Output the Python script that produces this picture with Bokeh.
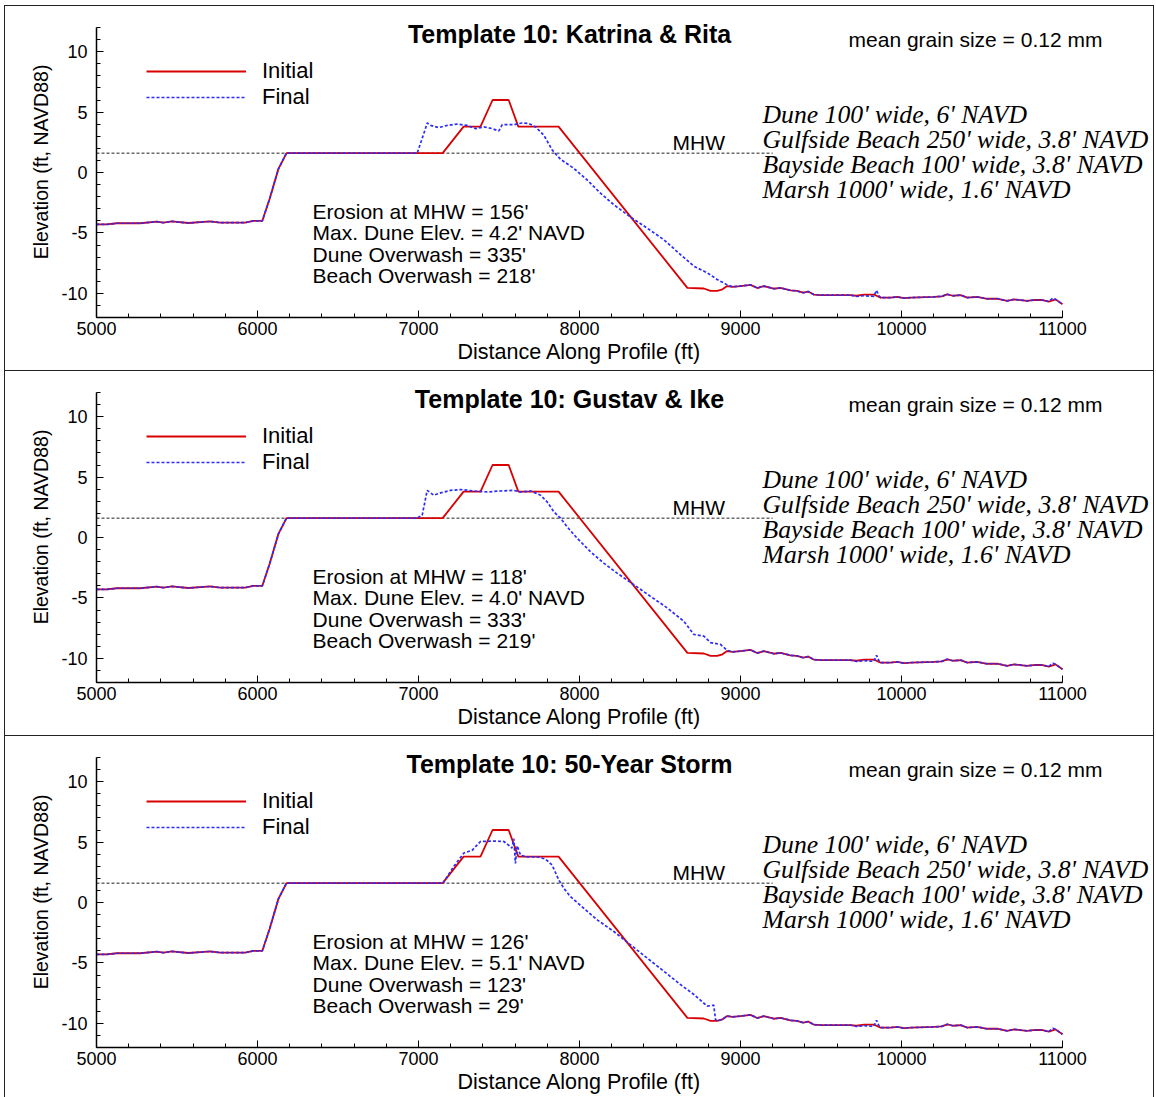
from bokeh.plotting import figure
from bokeh.models import Range1d, FixedTicker, Label, Legend, LegendItem, Title, Div
from bokeh.layouts import column
from bokeh.embed import file_html
from bokeh.resources import INLINE

# ---------------- data ----------------
initial_x = [5000, 5064, 5126, 5271, 5374, 5416, 5468, 5571, 5706, 5768, 5923, 5975, 6030,
             6075, 6130, 6180, 7150, 7280, 7385, 7460, 7560, 7620, 7870, 8670, 8772, 8814,
             8855, 8888, 8917, 8950, 9000, 9062, 9104, 9145, 9207, 9248, 9311, 9350, 9390,
             9420, 9455, 9500, 9683, 9720, 9768, 9828, 9870, 9932, 9975, 10014, 10060,
             10201, 10250, 10284, 10320, 10368, 10408, 10470, 10532, 10600, 10656, 10700,
             10780, 10830, 10870, 10915, 10957, 11000]
initial_y = [-4.3, -4.3, -4.2, -4.2, -4.07, -4.15, -4.05, -4.18, -4.05, -4.15, -4.15, -4.0, -4.0,
             -2.2, 0.3, 1.6, 1.6, 3.8, 3.8, 6.0, 6.0, 3.8, 3.8, -9.55, -9.6, -9.8,
             -9.8, -9.67, -9.4, -9.46, -9.4, -9.3, -9.56, -9.4, -9.62, -9.55, -9.75, -9.8, -9.95,
             -9.85, -10.1, -10.15, -10.15, -10.2, -10.1, -10.1, -10.35, -10.35, -10.3, -10.4, -10.35,
             -10.3, -10.25, -10.08, -10.2, -10.15, -10.35, -10.3, -10.45, -10.45, -10.62, -10.5,
             -10.62, -10.55, -10.55, -10.68, -10.5, -10.9]

# gulf side of the final profiles (unchanged)
final_head_x = [5000, 5064, 5126, 5271, 5374, 5416, 5468, 5571, 5706, 5768, 5923, 5975, 6030,
                6075, 6130, 6180]
final_head_y = [-4.3, -4.3, -4.2, -4.2, -4.07, -4.15, -4.05, -4.18, -4.05, -4.15, -4.15, -4.0, -4.0,
                -2.2, 0.3, 1.6]

# bay side tail of the final profiles
final_tail_x = [8855, 8888, 8917, 8950, 9000, 9062, 9104, 9145, 9207, 9248, 9311, 9350, 9390,
                9420, 9455, 9500, 9683, 9720, 9768, 9828, 9845, 9860, 9870, 9932, 9975, 10014, 10060,
                10201, 10250, 10284, 10320, 10368, 10408, 10470, 10532, 10600, 10656, 10700,
                10780, 10830, 10870, 10915, 10940, 10957, 11000]
final_tail_y = [-9.8, -9.67, -9.4, -9.46, -9.4, -9.3, -9.56, -9.4, -9.62, -9.55, -9.75, -9.8, -9.95,
                -9.85, -10.1, -10.15, -10.15, -10.25, -10.2, -10.25, -9.75, -10.2, -10.35, -10.35, -10.3, -10.4, -10.35,
                -10.3, -10.25, -10.08, -10.2, -10.15, -10.35, -10.3, -10.45, -10.45, -10.62, -10.5,
                -10.62, -10.55, -10.55, -10.68, -10.4, -10.5, -10.9]

katrina_mid_x = [6992, 7040, 7054, 7075, 7126, 7178, 7240, 7302, 7354, 7406, 7458, 7499, 7520,
                 7593, 7644, 7686, 7727, 7779, 7831, 7882, 7965, 8048, 8130, 8213, 8317, 8420,
                 8524, 8627, 8710, 8793, 8855, 8917]
katrina_mid_y = [1.6, 3.5, 4.1, 3.9, 3.72, 3.9, 4.0, 3.9, 3.63, 3.77, 3.63, 3.44, 3.96,
                 3.96, 4.1, 4.05, 3.77, 3.08, 1.85, 1.1, 0.34, -0.62, -1.71, -2.67, -3.69, -4.6,
                 -5.56, -6.79, -7.75, -8.3, -8.85, -9.3]

gustav_mid_x = [6992, 7023, 7054, 7095, 7137, 7199, 7261, 7344, 7427, 7509, 7592, 7634, 7696,
                7758, 7799, 7841, 7882, 7923, 7986, 8068, 8151, 8234, 8337, 8441, 8545, 8648,
                8710, 8772, 8814, 8876, 8917]
gustav_mid_y = [1.6, 1.85, 3.9, 3.5, 3.69, 3.9, 3.97, 3.85, 3.77, 3.85, 3.9, 3.77, 3.85,
                3.5, 2.95, 2.12, 1.6, 0.89, -0.07, -1.17, -2.12, -2.95, -3.9, -4.87, -5.83, -6.93,
                -8.02, -8.16, -8.7, -8.85, -9.34]

storm50_mid_x = [7150, 7157, 7220, 7282, 7333, 7385, 7468, 7530, 7561, 7580, 7592, 7602, 7613,
                 7634, 7675, 7737, 7789, 7830, 7872, 7903, 7944, 8027, 8110, 8213, 8317, 8420,
                 8524, 8627, 8710, 8793, 8834, 8845]
storm50_mid_y = [1.6, 1.7, 3.0, 4.1, 4.32, 5.05, 5.08, 5.05, 4.73, 4.5, 5.28, 3.23, 4.7,
                 3.9, 3.77, 3.77, 3.6, 3.09, 1.85, 1.17, 0.48, -0.48, -1.44, -2.4, -3.5, -4.6,
                 -5.69, -6.79, -7.61, -8.58, -8.5, -9.7]

mhw_x = [5000, 9200]
mhw_y = [1.6, 1.6]

titles = ["Template 10: Katrina & Rita", "Template 10: Gustav & Ike", "Template 10: 50-Year Storm"]
stats = [
    ["Erosion at MHW = 156'", "Max. Dune Elev. = 4.2' NAVD", "Dune Overwash = 335'", "Beach Overwash = 218'"],
    ["Erosion at MHW = 118'", "Max. Dune Elev. = 4.0' NAVD", "Dune Overwash = 333'", "Beach Overwash = 219'"],
    ["Erosion at MHW = 126'", "Max. Dune Elev. = 5.1' NAVD", "Dune Overwash = 123'", "Beach Overwash = 29'"],
]
template_lines = ["Dune 100' wide, 6' NAVD", "Gulfside Beach 250' wide, 3.8' NAVD",
                  "Bayside Beach 100' wide, 3.8' NAVD", "Marsh 1000' wide, 1.6' NAVD"]
grain_text = "mean grain size = 0.12 mm"
x_label = "Distance Along Profile (ft)"
y_label = "Elevation (ft, NAVD88)"
x_ticks = [5000, 6000, 7000, 8000, 9000, 10000, 11000]
x_minor = list(range(5000, 11001, 200))
y_ticks = [-10, -5, 0, 5, 10]
y_tick_text = ["-10", "-5", "0", "5", "10"]
y_minor = list(range(-12, 13, 1))


def tail_from(x0):
    xs = [x for x in final_tail_x if x >= x0]
    ys = [y for x, y in zip(final_tail_x, final_tail_y) if x >= x0]
    return xs, ys


t1x, t1y = tail_from(8950)
t3x, t3y = tail_from(8855)
finals = [
    (final_head_x + katrina_mid_x + t1x, final_head_y + katrina_mid_y + t1y),
    (final_head_x + gustav_mid_x + t1x, final_head_y + gustav_mid_y + t1y),
    (final_head_x + storm50_mid_x + t3x, final_head_y + storm50_mid_y + t3y),
]

SANS = "Liberation Sans"
SERIF = "Liberation Serif"
RED = "#d80000"
BLUE = "#2b2bff"

FIG_W, FIG_H = 1148, 364
LEFT, BOTTOM = 91, 53
FRAME_W = FIG_W - LEFT
FRAME_H = FIG_H - BOTTOM
PX_PER_FT = 966 / 6000.0
PX_PER_UNIT = 290 / 24.0
X_END = 5000 + FRAME_W / PX_PER_FT
Y_END = -12 + FRAME_H / PX_PER_UNIT


def make_panel(title, fx, fy, stat_lines):
    p = figure(width=FIG_W, height=FIG_H, x_range=Range1d(5000, X_END), y_range=Range1d(-12, Y_END),
               output_backend="svg", toolbar_location=None,
               min_border_left=LEFT, min_border_right=0, min_border_top=0, min_border_bottom=BOTTOM)
    p.outline_line_color = None
    p.grid.visible = False
    p.background_fill_color = "white"
    p.border_fill_color = "white"

    p.xaxis.ticker = FixedTicker(ticks=x_ticks, minor_ticks=x_minor)
    p.yaxis.ticker = FixedTicker(ticks=y_ticks, minor_ticks=y_minor)
    p.xaxis.bounds = (5000, 11000)
    p.yaxis.bounds = (-12, 12)
    p.yaxis.major_label_overrides = dict(zip(y_ticks, y_tick_text))
    for ax in (p.xaxis, p.yaxis):
        ax.major_tick_in = 7
        ax.major_tick_out = 0
        ax.minor_tick_in = 4
        ax.minor_tick_out = 0
        ax.axis_line_color = "black"
        ax.axis_line_width = 1.5
        ax.major_tick_line_color = "black"
        ax.minor_tick_line_color = "black"
        ax.major_label_text_font = SANS
        ax.major_label_text_font_size = "18px"
        ax.major_label_text_color = "black"
        ax.axis_label_text_font = SANS
        ax.axis_label_text_font_style = "normal"
        ax.axis_label_text_color = "black"
    p.yaxis.axis_label = y_label
    p.yaxis.axis_label_text_font_size = "19.5px"
    p.xaxis.major_label_standoff = 4
    p.yaxis.major_label_standoff = 9
    p.yaxis.axis_label_standoff = 6
    # x-axis label centred under the 5000-11000 span of the axis
    p.add_layout(Title(text=x_label, align="left", offset=361, standoff=1,
                       text_font=SANS, text_font_size="21.5px", text_font_style="normal",
                       text_color="black"), "below")

    p.line(mhw_x, mhw_y, line_color="#222222", line_width=1, line_dash="3 2")
    r1 = p.line(initial_x, initial_y, line_color=RED, line_width=1.8)
    r2 = p.line(fx, fy, line_color=BLUE, line_width=1.7, line_dash="3 2")

    legend = Legend(items=[LegendItem(label="Initial", renderers=[r1]),
                           LegendItem(label="Final", renderers=[r2])],
                    location=(50, 207), glyph_width=100, glyph_height=26, label_height=26,
                    label_standoff=16, spacing=0, padding=0, margin=0,
                    border_line_color=None, background_fill_alpha=0,
                    label_text_font=SANS, label_text_font_size="22px", label_text_color="black")
    p.add_layout(legend)

    p.add_layout(Label(x=7938, y=11.5, text=title, text_font=SANS, text_font_size="25px",
                       text_font_style="bold", text_color="black",
                       text_align="center", text_baseline="middle"))
    p.add_layout(Label(x=9671, y=11.0, text=grain_text, text_font=SANS, text_font_size="21px",
                       text_color="black", text_align="left", text_baseline="middle"))
    p.add_layout(Label(x=8578, y=2.48, text="MHW", text_font=SANS, text_font_size="21px",
                       text_color="black", text_align="left", text_baseline="middle"))
    for txt, yy in zip(stat_lines, [-3.22, -4.96, -6.78, -8.52]):
        p.add_layout(Label(x=6342, y=yy, text=txt, text_font=SANS, text_font_size="21px",
                           text_color="black", text_align="left", text_baseline="middle"))
    for txt, yy in zip(template_lines, [4.8, 2.73, 0.66, -1.41]):
        p.add_layout(Label(x=9137, y=yy, text=txt, text_font=SERIF, text_font_size="25.7px",
                           text_font_style="italic", text_color="black",
                           text_align="left", text_baseline="middle"))
    return p


panels = [make_panel(t, fx, fy, s) for t, (fx, fy), s in zip(titles, finals, stats)]


def separator():
    return Div(text="", width=FIG_W, height=1, margin=0,
               styles={"background-color": "#222222"})


layout = column(panels[0], separator(), panels[1], separator(), panels[2], spacing=0,
                styles={"background-color": "white", "border": "1px solid #222222",
                        "margin-left": "4px", "margin-top": "5px"})

open("out.html", "w").write(file_html(layout, INLINE))
